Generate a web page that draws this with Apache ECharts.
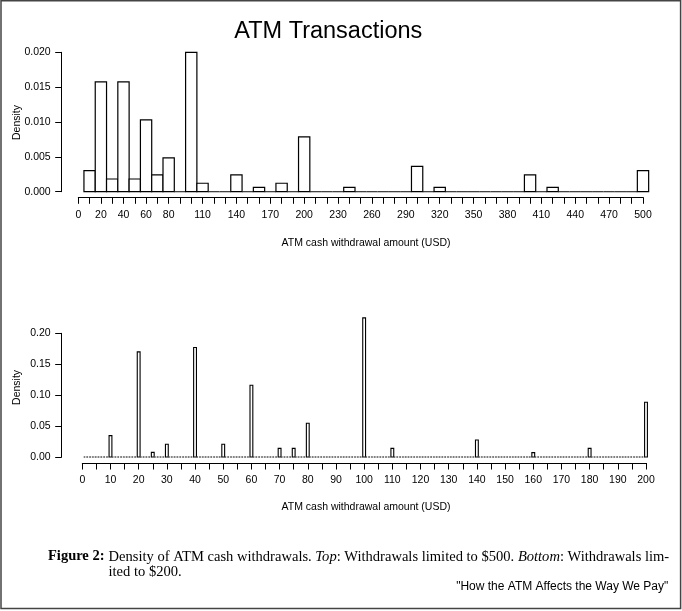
<!DOCTYPE html>
<html>
<head>
<meta charset="utf-8">
<script src="https://cdn.jsdelivr.net/npm/echarts@6/dist/echarts.min.js"></script>
<style>
  html, body { margin: 0; padding: 0; background: #fff; }
  #chart { width: 682px; height: 611px; }
</style>
</head>
<body>
<div id="chart"></div>
<script>
// ---- Data ----
// Top panel: withdrawals limited to $500, bins of width 10 centred on multiples of 10
const topBinWidth = 10;
const topBinFirst = 10;
const topBinLast = 500;
const topAmounts = [10, 20, 30, 40, 50, 60, 70, 80, 100, 110, 140, 160, 180, 200, 240, 300, 320, 400, 420, 500];
const topDensity = [0.00303, 0.01576, 0.00182, 0.01576, 0.00182, 0.0103, 0.00242, 0.00485, 0.0200, 0.00121,
                    0.00242, 0.00061, 0.00121, 0.00788, 0.00061, 0.00364, 0.00061, 0.00242, 0.00061, 0.00303];
const topXTickLabels = [0, 20, 40, 60, 80, 110, 140, 170, 200, 230, 260, 290, 320, 350, 380, 410, 440, 470, 500];

// Bottom panel: withdrawals limited to $200, bins of width 1
const botBinWidth = 1;
const botBinFirst = 1;
const botBinLast = 200;
const botAmounts = [10, 20, 25, 30, 40, 50, 60, 70, 75, 80, 100, 110, 140, 160, 180, 200];
const botDensity = [0.0345, 0.170, 0.0075, 0.0205, 0.177, 0.0205, 0.116, 0.014, 0.014, 0.0545,
                    0.225, 0.014, 0.0275, 0.007, 0.014, 0.0885];

// Build the full histogram tables (empty bins have zero density)
function buildBins(first, last, step, amounts, dens) {
  const out = [];
  for (let b = first; b <= last; b += step) {
    const i = amounts.indexOf(b);
    out.push([b, i >= 0 ? dens[i] : 0]);
  }
  return out;
}
const topData = buildBins(topBinFirst, topBinLast, topBinWidth, topAmounts, topDensity);
const botData = buildBins(botBinFirst, botBinLast, botBinWidth, botAmounts, botDensity);

function makeRender(binWidth, zeroStyle, barLw) {
  return function (params, api) {
    const x = api.value(0), y = api.value(1);
    const w = api.size([binWidth, 0])[0];
    const p0 = api.coord([x, 0]);
    if (y === 0) {
      return { type: 'line', shape: { x1: p0[0] - w / 2, y1: p0[1], x2: p0[0] + w / 2, y2: p0[1] }, style: zeroStyle };
    }
    const p1 = api.coord([x, y]);
    return {
      type: 'rect',
      shape: { x: p0[0] - w / 2, y: p1[1], width: w, height: p0[1] - p1[1] },
      style: { fill: '#fff', stroke: '#000', lineWidth: barLw }
    };
  };
}

const FONT = 'Liberation Sans';
const axisCommon = {
  axisLine: { show: true, onZero: false, lineStyle: { color: '#000', width: 1 } },
  axisTick: { show: true, length: 6.5, lineStyle: { color: '#000', width: 1 } },
  splitLine: { show: false },
  axisLabel: { color: '#000', fontFamily: FONT, fontSize: 10.5, margin: 11 }
};

const chart = echarts.init(document.getElementById('chart'), null, { renderer: 'canvas' });
chart.setOption({
  animation: false,
  backgroundColor: '#fff',
  grid: [
    { left: 78.3, top: 52.3, width: 564.7, height: 139.4, outerBoundsMode: 'none' },
    { left: 82.3, top: 333.3, width: 563.7, height: 123.7, outerBoundsMode: 'none' }
  ],
  xAxis: [
    Object.assign({}, axisCommon, {
      type: 'value', gridIndex: 0, min: 0, max: 500, interval: 10, offset: 5.6,
      axisLabel: Object.assign({}, axisCommon.axisLabel, {
        margin: 12,
        formatter: v => topXTickLabels.indexOf(v) >= 0 ? String(v) : ''
      })
    }),
    Object.assign({}, axisCommon, {
      type: 'value', gridIndex: 1, min: 0, max: 200, interval: 5, offset: 6,
      axisLabel: Object.assign({}, axisCommon.axisLabel, {
        margin: 12,
        formatter: v => (v % 10 === 0) ? String(v) : ''
      })
    })
  ],
  yAxis: [
    Object.assign({}, axisCommon, {
      type: 'value', gridIndex: 0, min: 0, max: 0.02, interval: 0.005, offset: 16.6,
      axisLabel: Object.assign({}, axisCommon.axisLabel, { formatter: v => v.toFixed(3) })
    }),
    Object.assign({}, axisCommon, {
      type: 'value', gridIndex: 1, min: 0, max: 0.2, interval: 0.05, offset: 20.6,
      axisLabel: Object.assign({}, axisCommon.axisLabel, { formatter: v => v.toFixed(2) })
    })
  ],
  series: [
    {
      type: 'custom', xAxisIndex: 0, yAxisIndex: 0, clip: false,
      encode: { x: 0, y: 1 },
      renderItem: makeRender(topBinWidth, { stroke: '#222', lineWidth: 1.1 }, 1.2),
      data: topData
    },
    {
      type: 'custom', xAxisIndex: 1, yAxisIndex: 1, clip: false,
      encode: { x: 0, y: 1 },
      renderItem: makeRender(botBinWidth, { stroke: '#555', lineWidth: 1.4, lineDash: [1.6, 0.9] }, 1.1),
      data: botData
    }
  ],
  graphic: [
    { type: 'rect', shape: { x: 1, y: 0.8, width: 679.6, height: 607.6 },
      style: { fill: null, stroke: '#444', lineWidth: 1.5 }, silent: true },
    { type: 'text', x: 328.3, y: 31.5,
      style: { text: 'ATM Transactions', fontFamily: FONT, fontSize: 23.5, fill: '#000', align: 'center', verticalAlign: 'middle' } },
    { type: 'text', x: 16.7, y: 122.5, rotation: Math.PI / 2,
      style: { text: 'Density', fontFamily: FONT, fontSize: 10.5, fill: '#000', align: 'center', verticalAlign: 'middle' } },
    { type: 'text', x: 16.7, y: 387.4, rotation: Math.PI / 2,
      style: { text: 'Density', fontFamily: FONT, fontSize: 10.5, fill: '#000', align: 'center', verticalAlign: 'middle' } },
    { type: 'text', x: 366, y: 243.3,
      style: { text: 'ATM cash withdrawal amount (USD)', fontFamily: FONT, fontSize: 10.5, fill: '#000', align: 'center', verticalAlign: 'middle' } },
    { type: 'text', x: 366, y: 507,
      style: { text: 'ATM cash withdrawal amount (USD)', fontFamily: FONT, fontSize: 10.5, fill: '#000', align: 'center', verticalAlign: 'middle' } },
    { type: 'text', x: 48, y: 556.7,
      style: { text: 'Figure 2:', fontFamily: 'Liberation Serif', fontSize: 14.5, fontWeight: 'bold', fill: '#000', align: 'left', verticalAlign: 'middle' } },
    { type: 'text', x: 108.5, y: 556.7,
      style: {
        text: 'Density of ATM cash withdrawals. {i|Top}: Withdrawals limited to $500. {i|Bottom}: Withdrawals lim-',
        fontFamily: 'Liberation Serif', fontSize: 14.55, fill: '#000', align: 'left', verticalAlign: 'middle',
        rich: { i: { fontFamily: 'Liberation Serif', fontSize: 14.55, fontStyle: 'italic', fill: '#000' } }
      } },
    { type: 'text', x: 108.5, y: 572.5,
      style: { text: 'ited to $200.', fontFamily: 'Liberation Serif', fontSize: 14.55, fill: '#000', align: 'left', verticalAlign: 'middle' } },
    { type: 'text', x: 668.3, y: 586.7,
      style: { text: '"How the ATM Affects the Way We Pay"', fontFamily: FONT, fontSize: 12, fill: '#000', align: 'right', verticalAlign: 'middle' } }
  ]
});
</script>
</body>
</html>
